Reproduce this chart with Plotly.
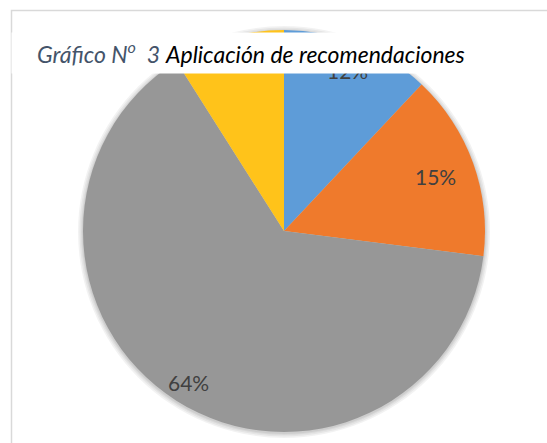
import math
import plotly.graph_objects as go

# ---- data ----
categories = ["A", "B", "C", "D"]
values = [12, 15, 64, 9]
label_texts = ["12%", "15%", "64%", "9%"]
title_prefix = "Gráfico N"
title_sup = "o"
title_num = "3"
title_main = "Aplicación de recomendaciones"

# ---- style / layout ----
W, H = 547, 443
colors = ["#5E9CD8", "#EF7A2C", "#979797", "#FFC31A"]
CX, CY, R = 284, 231, 201  # pixel centre / radius of pie
LABEL_FRAC = [0.86, 0.80, 0.89, 0.90]
FONT = "Lato, Open Sans, sans-serif"

dom_x = [(CX - R) / W, (CX + R) / W]
dom_y = [(H - CY - R) / H, (H - CY + R) / H]

fig = go.Figure(go.Pie(
    labels=categories,
    values=values,
    sort=False,
    direction="clockwise",
    rotation=0,
    marker=dict(colors=colors, line=dict(width=0)),
    textinfo="none",
    hoverinfo="label+percent",
    domain=dict(x=dom_x, y=dom_y),
    showlegend=False,
))

annotations = []
total = sum(values)
cum = 0
for v, t, f in zip(values, label_texts, LABEL_FRAC):
    mid = (cum + v / 2) / total * 2 * math.pi
    cum += v
    px = CX + f * R * math.sin(mid)
    py = CY - f * R * math.cos(mid)
    annotations.append(dict(
        x=px / W, y=1 - py / H, xref="paper", yref="paper",
        text=t, showarrow=False, xanchor="center", yanchor="middle",
        font=dict(family=FONT, size=21, color="#404040"),
    ))

# white title box (covers top of pie)
annotations.append(dict(
    x=11 / W, y=1 - 32 / H, xref="paper", yref="paper",
    text=" ", showarrow=False, xanchor="left", yanchor="top",
    width=459, height=40, bgcolor="white", borderpad=0,
))
annotations.append(dict(
    x=35 / W, y=1 - 52 / H, xref="paper", yref="paper",
    text=(f'<span style="color:#44546A"><i>{title_prefix}<sup>{title_sup}</sup>&nbsp; {title_num}</i></span>'
          f' <i>{title_main}</i>'),
    showarrow=False, xanchor="left", yanchor="middle",
    font=dict(family=FONT, size=23, color="#000000"),
))

shapes = [dict(
    type="rect", xref="paper", yref="paper",
    x0=11.5 / W, y0=-0.02, x1=1.02, y1=1 - 10.5 / H,
    line=dict(color="#D9D9D9", width=1.5), fillcolor="rgba(0,0,0,0)",
    layer="below",
)]
# soft shadow rings behind the pie
for d in (5, 3.5, 2, 1):
    shapes.append(dict(
        type="circle", xref="paper", yref="paper",
        x0=(CX - R - d) / W, x1=(CX + R + d) / W,
        y0=1 - (CY + 1 + R + d) / H, y1=1 - (CY + 1 - R - d) / H,
        line=dict(width=0), fillcolor="rgba(0,0,0,0.05)", layer="below",
    ))

fig.update_layout(
    width=W, height=H,
    margin=dict(l=0, r=0, t=0, b=0),
    paper_bgcolor="white",
    plot_bgcolor="white",
    annotations=annotations,
    shapes=shapes,
)

fig.write_html(
    "out.html",
    config={"displayModeBar": False},
    post_script="document.body.style.margin='0';document.body.style.padding='0';",
)
